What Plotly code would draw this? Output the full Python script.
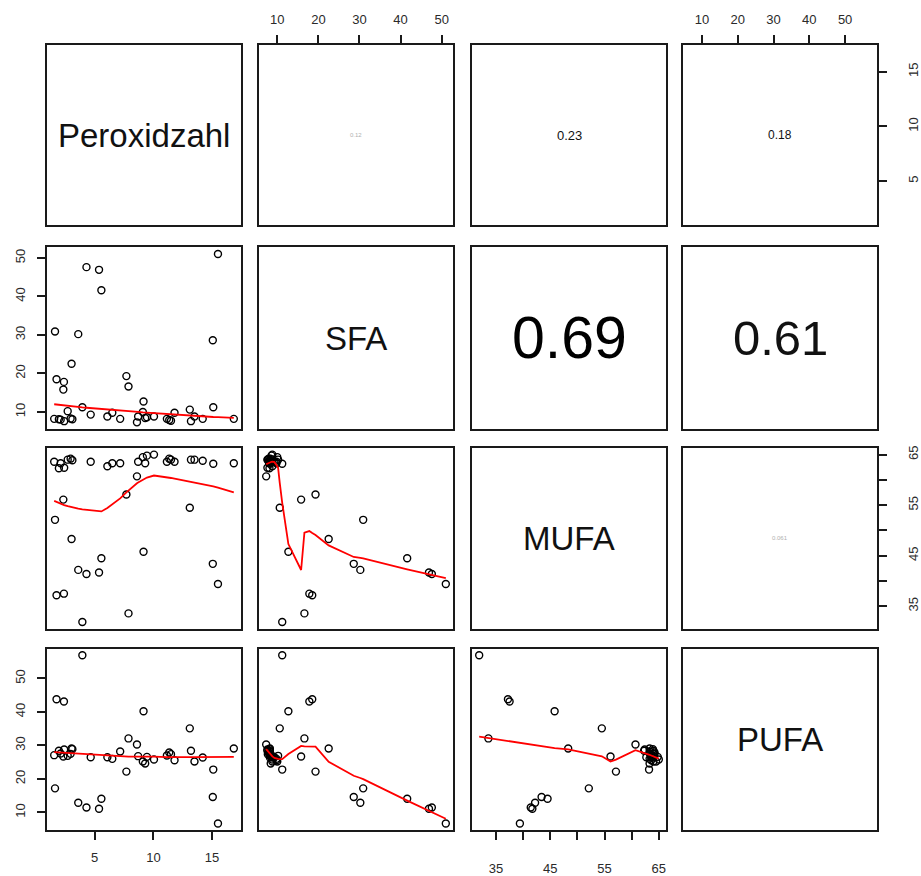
import numpy as np
import plotly.graph_objects as go

# ---------------- data ----------------
var_names = ["Peroxidzahl", "SFA", "MUFA", "PUFA"]

peroxidzahl = [3.95, 1.75, 2.38, 9.16, 13.10, 7.88, 3.03, 2.33, 7.70, 1.62,
               15.06, 3.60, 5.57, 4.30, 5.37, 15.50, 8.60, 15.10,
               1.55, 1.95, 2.10, 2.40, 2.70, 2.95, 3.10, 4.66, 6.08, 6.50,
               7.17, 8.70, 9.10, 9.30, 9.45, 10.05, 11.15, 11.35, 11.50, 11.80,
               13.20, 13.50, 14.20, 16.85]
sfa = [11.2, 18.5, 17.8, 12.7, 10.6, 16.6, 22.5, 15.8, 19.3, 30.9,
       28.6, 30.2, 41.6, 47.6, 46.9, 51.0, 7.3, 11.2,
       8.2, 8.1, 8.0, 7.6, 10.2, 8.3, 8.1, 9.3, 8.8, 9.8,
       8.2, 8.8, 10.0, 8.4, 8.6, 8.8, 8.2, 7.9, 7.7, 9.8,
       7.6, 8.8, 8.2, 8.2]
mufa = [31.9, 37.2, 37.5, 45.8, 54.5, 33.6, 48.3, 56.1, 57.1, 52.1,
        43.4, 42.2, 44.5, 41.4, 41.7, 39.4, 60.7, 63.2,
        63.6, 62.3, 63.3, 62.4, 64.0, 64.2, 63.9, 63.6, 62.7, 63.3,
        63.3, 63.6, 64.5, 63.3, 64.8, 65.0, 63.6, 64.2, 64.0, 63.6,
        64.0, 64.0, 63.8, 63.3]
pufa = [56.9, 43.8, 43.1, 40.2, 35.1, 32.1, 29.1, 26.7, 22.2, 17.2,
        14.6, 12.9, 14.1, 11.5, 11.1, 6.7, 30.3, 22.8,
        27.1, 28.4, 27.6, 28.8, 26.9, 27.5, 28.9, 26.5, 26.5, 26.0,
        28.2, 26.8, 25.2, 24.6, 26.6, 25.8, 27.0, 27.9, 27.4, 25.6,
        28.4, 25.2, 26.4, 29.1]

# correlation texts shown in the upper panels: (row, col, text, font size, colour)
cor_texts = [(0, 1, "0.12", 6, "#b0b0b0"),
             (0, 2, "0.23", 13, "#111111"),
             (0, 3, "0.18", 12, "#111111"),
             (1, 2, "0.69", 59, "#000000"),
             (1, 3, "0.61", 49, "#111111"),
             (2, 3, "0.061", 6, "#b0b0b0")]

tick_vals = {
    "Peroxidzahl": [5, 10, 15],
    "SFA": [10, 20, 30, 40, 50],
    "MUFA": [35, 40, 45, 50, 55, 60, 65],
    "PUFA": [10, 20, 30, 40, 50],
}
tick_text = {
    "Peroxidzahl": ["5", "10", "15"],
    "SFA": ["10", "20", "30", "40", "50"],
    "MUFA": ["35", "", "45", "", "55", "", "65"],
    "PUFA": ["10", "20", "30", "40", "50"],
}

data = {"Peroxidzahl": np.array(peroxidzahl), "SFA": np.array(sfa),
        "MUFA": np.array(mufa), "PUFA": np.array(pufa)}


# ---------------- R-style lowess (f = 2/3, iter = 3) ----------------
def lowess(x, y, f=2 / 3, it=3):
    o = np.argsort(x, kind="mergesort")
    x = np.asarray(x, float)[o]
    y = np.asarray(y, float)[o]
    n = len(x)
    ns = max(2, min(n, int(f * n + 1e-7)))
    rng = x[-1] - x[0]
    rw = np.ones(n)
    ys = np.zeros(n)
    for iteration in range(it + 1):
        for i in range(n):
            d = np.abs(x - x[i])
            h = np.sort(d)[ns - 1]
            if h > 0:
                r = d / h
                w = np.where(r <= 0.999, (1 - np.clip(r, 0, 1) ** 3) ** 3, 0.0)
                w = np.where(r <= 0.001, 1.0, w)
            else:
                w = (d == 0).astype(float)
            w = w * rw
            sw = w.sum()
            if sw <= 0:
                ys[i] = y[i]
                continue
            w = w / sw
            a = np.sum(w * x)
            b = np.sum(w * (x - a) ** 2)
            if np.sqrt(b) > 0.001 * rng:
                coef = w * (1 + (x[i] - a) * (x - a) / b)
            else:
                coef = w
            ys[i] = np.sum(coef * y)
        res = y - ys
        if iteration == it:
            break
        m = np.median(np.abs(res))
        cmad = 6 * m
        if cmad < 1e-7 * np.mean(np.abs(y)):
            break
        u = np.abs(res) / cmad
        rw = np.where(u <= 0.001, 1.0, np.where(u <= 0.999, (1 - np.clip(u, 0, 1) ** 2) ** 2, 0.0))
    return x, ys


def r_range(v):
    lo, hi = float(np.min(v)), float(np.max(v))
    e = 0.04 * (hi - lo)
    return [lo - e, hi + e]


def sfx(k):
    return "" if k == 1 else str(k)


# ---------------- layout geometry ----------------
W, H = 921, 876
col_px = [(47, 241), (259, 453), (472, 666), (683, 877)]
row_px = [(43, 225), (247, 430), (449, 631), (651, 834)]

fig = go.Figure()
layout = dict(width=W, height=H, margin=dict(l=0, r=0, t=0, b=0),
              paper_bgcolor="white", plot_bgcolor="white", showlegend=False,
              font=dict(family="Liberation Sans, Arial, sans-serif", color="#222"))
annotations = []

AXC = "#1a1a1a"
for i in range(4):
    for j in range(4):
        k = i * 4 + j + 1
        s = sfx(k)
        xv = var_names[j]
        yv = var_names[i]
        xa = dict(domain=[col_px[j][0] / W, col_px[j][1] / W],
                  anchor=f"y{s}", range=r_range(data[xv]),
                  showline=True, mirror=True, linecolor=AXC, linewidth=2,
                  showgrid=False, zeroline=False, fixedrange=True)
        ya = dict(domain=[1 - row_px[i][1] / H, 1 - row_px[i][0] / H],
                  anchor=f"x{s}", range=r_range(data[yv]),
                  showline=True, mirror=True, linecolor=AXC, linewidth=2,
                  showgrid=False, zeroline=False, fixedrange=True)
        tf = dict(family="Liberation Sans, Arial, sans-serif", size=13, color="#2a2a2a")
        # x ticks
        if i == 0 and j in (1, 3):
            xa.update(side="top", ticks="outside", ticklen=8, tickwidth=2, tickcolor=AXC,
                      tickvals=tick_vals[xv], ticktext=tick_text[xv], tickfont=tf,
                      showticklabels=True, ticklabelstandoff=6)
        elif i == 3 and j in (0, 2):
            xa.update(side="bottom", ticks="outside", ticklen=8, tickwidth=2, tickcolor=AXC,
                      tickvals=tick_vals[xv], ticktext=tick_text[xv], tickfont=tf,
                      showticklabels=True,
                      ticklabelstandoff=(6 if j == 0 else 17))
        else:
            xa.update(ticks="", showticklabels=False)
        # y ticks
        if j == 0 and i in (1, 3):
            ya.update(side="left", ticks="outside", ticklen=8, tickwidth=2, tickcolor=AXC,
                      tickvals=tick_vals[yv], ticktext=tick_text[yv], tickfont=tf,
                      tickangle=-90, showticklabels=True, ticklabelstandoff=7)
        elif j == 3 and i in (0, 2):
            ya.update(side="right", ticks="outside", ticklen=8, tickwidth=2, tickcolor=AXC,
                      tickvals=tick_vals[yv], ticktext=tick_text[yv], tickfont=tf,
                      tickangle=-90, showticklabels=True, ticklabelstandoff=15)
        else:
            ya.update(ticks="", showticklabels=False)
        layout["xaxis" + s] = xa
        layout["yaxis" + s] = ya

        if i > j:
            fig.add_trace(go.Scatter(
                x=data[xv], y=data[yv], mode="markers", xaxis=f"x{s}", yaxis=f"y{s}",
                marker=dict(symbol="circle-open", size=7, color="black",
                            line=dict(width=1.4, color="black")),
                hoverinfo="skip"))
            lx, ly = lowess(data[xv], data[yv])
            fig.add_trace(go.Scatter(
                x=lx, y=ly, mode="lines", xaxis=f"x{s}", yaxis=f"y{s}",
                line=dict(color="#ff0000", width=1.8), hoverinfo="skip"))
        else:
            fig.add_trace(go.Scatter(x=[None], y=[None], xaxis=f"x{s}", yaxis=f"y{s}",
                                     mode="markers", hoverinfo="skip"))
            if i == j:
                annotations.append(dict(
                    text=var_names[i], xref=f"x{s} domain", yref=f"y{s} domain",
                    x=0.5, y=0.5, showarrow=False, xanchor="center", yanchor="middle",
                    font=dict(family="Liberation Sans, Arial, sans-serif", size=33,
                              color="#111")))

for (ri, ci, txt, fs, colr) in cor_texts:
    s = sfx(ri * 4 + ci + 1)
    annotations.append(dict(
        text=txt, xref=f"x{s} domain", yref=f"y{s} domain",
        x=0.5, y=0.5, showarrow=False, xanchor="center", yanchor="middle",
        font=dict(family="Liberation Sans, Arial, sans-serif", size=fs, color=colr)))

layout["annotations"] = annotations
fig.update_layout(**layout)
fig.write_html("out.html")
